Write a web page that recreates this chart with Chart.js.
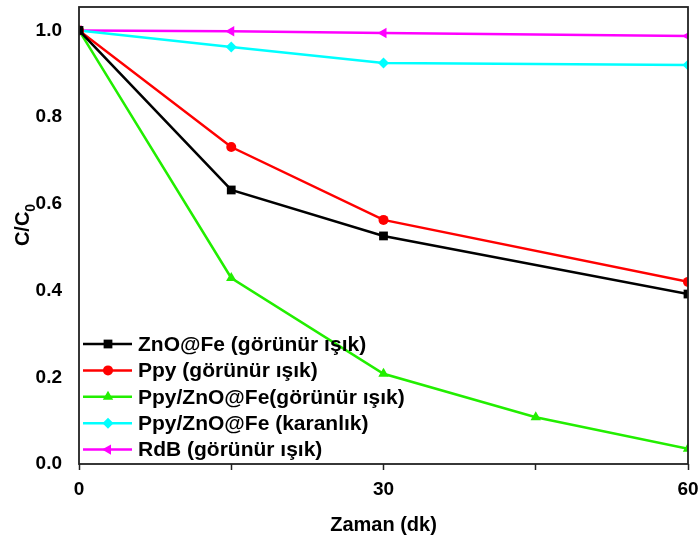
<!DOCTYPE html>
<html>
<head>
<meta charset="utf-8">
<script src="https://cdn.jsdelivr.net/npm/chart.js@4"></script>
<style>
  html, body { margin: 0; padding: 0; background: #fff; }
  #wrap { width: 700px; height: 537px; }
</style>
</head>
<body>
<div id="wrap"><canvas id="myChart" width="700" height="537"></canvas></div>
<script>
// time (min)
const zaman = [0, 15, 30, 60];
const zamanGreen = [0, 15, 30, 45, 60];

const znoFe = [1.0, 0.632, 0.526, 0.392];
const ppy = [1.0, 0.731, 0.563, 0.42];
const ppyZnoFe = [1.0, 0.429, 0.208, 0.108, 0.035];
const karanlik = [1.0, 0.962, 0.925, 0.92];
const rdb = [1.0, 0.998, 0.994, 0.987];

const seriesNames = [
    'ZnO@Fe (görünür ışık)',
    'Ppy (görünür ışık)',
    'Ppy/ZnO@Fe(görünür ışık)',
    'Ppy/ZnO@Fe (karanlık)',
    'RdB (görünür ışık)'
];
const xTickLabels = [0, 30, 60];

const FONT = '"Liberation Sans", Arial, sans-serif';

const toPoints = (xs, ys) => xs.map((x, i) => ({ x: x, y: ys[i] }));

const makeSet = (label, xs, ys, color, style, r, rot) => ({
    label: label,
    data: toPoints(xs, ys),
    borderColor: color,
    backgroundColor: color,
    borderWidth: 2.5,
    pointStyle: style,
    rotation: rot || 0,
    pointRadius: r,
    pointBorderWidth: 0,
    tension: 0
});

// legend drawn inside plot, bottom left
const innerLegend = {
    id: 'innerLegend',
    afterDatasetsDraw(chart) {
        const ctx = chart.ctx;
        const x0 = 83;
        const rowH = 26.4;
        const y0 = 344;
        ctx.save();
        chart.data.datasets.forEach((ds, i) => {
            const y = y0 + i * rowH;
            ctx.strokeStyle = ds.borderColor;
            ctx.lineWidth = 2.5;
            ctx.beginPath();
            ctx.moveTo(x0, y);
            ctx.lineTo(x0 + 49, y);
            ctx.stroke();
            ctx.fillStyle = ds.backgroundColor;
            Chart.helpers.drawPoint(ctx, {
                pointStyle: ds.pointStyle,
                rotation: ds.rotation,
                radius: ds.pointRadius,
                borderWidth: 0
            }, x0 + 25, y);
            ctx.fillStyle = '#000';
            ctx.font = 'bold 21px ' + FONT;
            ctx.textBaseline = 'middle';
            ctx.textAlign = 'left';
            ctx.fillText(ds.label, 138, y + 1);
        });
        ctx.restore();
    }
};

// frame + y title with subscript
const frame = {
    id: 'frame',
    afterDraw(chart) {
        const ctx = chart.ctx;
        const a = chart.chartArea;
        ctx.save();
        ctx.strokeStyle = '#222';
        ctx.lineWidth = 1.8;
        ctx.strokeRect(a.left, a.top, a.right - a.left, a.bottom - a.top);

        ctx.translate(23, 225);
        ctx.rotate(-Math.PI / 2);
        ctx.fillStyle = '#000';
        ctx.textBaseline = 'middle';
        ctx.font = 'bold 20px ' + FONT;
        const main = 'C/C';
        const w = ctx.measureText(main).width;
        ctx.font = 'bold 14px ' + FONT;
        const ws = ctx.measureText('0').width;
        const start = -(w + ws) / 2;
        ctx.font = 'bold 20px ' + FONT;
        ctx.textAlign = 'left';
        ctx.fillText(main, start, 0);
        ctx.font = 'bold 14px ' + FONT;
        ctx.fillText('0', start + w, 8);
        ctx.restore();
    }
};

const ctx = document.getElementById('myChart').getContext('2d');
const myChart = new Chart(ctx, {
    type: 'line',
    data: {
        datasets: [
            makeSet(seriesNames[0], zaman, znoFe, '#000000', 'rect', 6.2),
            makeSet(seriesNames[1], zaman, ppy, '#ff0000', 'circle', 5),
            makeSet(seriesNames[2], zamanGreen, ppyZnoFe, '#22ee00', 'triangle', 6),
            makeSet(seriesNames[3], zaman, karanlik, '#00ffff', 'rectRot', 5.5),
            makeSet(seriesNames[4], zaman, rdb, '#ff00ff', 'triangle', 6, -90)
        ]
    },
    options: {
        responsive: false,
        animation: false,
        layout: { padding: { left: 0, top: 7, right: 12, bottom: 0 } },
        plugins: {
            legend: { display: false },
            tooltip: { enabled: false }
        },
        scales: {
            x: {
                type: 'linear',
                min: 0,
                max: 60,
                afterFit: s => { s.height = 73; s.paddingRight = 0; s.paddingLeft = 0; },
                afterBuildTicks: s => {
                    s.ticks = [0, 15, 30, 45, 60].map(v => ({ value: v }));
                },
                border: { display: false },
                grid: {
                    drawOnChartArea: false,
                    drawTicks: true,
                    tickLength: 6,
                    tickWidth: 1.5,
                    color: '#222'
                },
                ticks: {
                    color: '#000',
                    font: { family: FONT, size: 19, weight: 'bold' },
                    padding: 8,
                    maxRotation: 0,
                    autoSkip: false,
                    callback: v => xTickLabels.includes(v) ? String(v) : ''
                },
                title: {
                    display: true,
                    text: 'Zaman (dk)',
                    color: '#000',
                    font: { family: FONT, size: 20, weight: 'bold' },
                    padding: { top: 11, bottom: 0 }
                }
            },
            y: {
                min: 0,
                max: 1.054,
                afterFit: s => { s.width = 79; s.paddingTop = 0; s.paddingBottom = 0; },
                afterBuildTicks: s => {
                    s.ticks = [0, 0.2, 0.4, 0.6, 0.8, 1.0].map(v => ({ value: v }));
                },
                border: { display: false },
                grid: { display: false },
                ticks: {
                    color: '#000',
                    font: { family: FONT, size: 19, weight: 'bold' },
                    padding: 9,
                    callback: v => v.toFixed(1)
                }
            }
        }
    },
    plugins: [innerLegend, frame]
});
</script>
</body>
</html>
